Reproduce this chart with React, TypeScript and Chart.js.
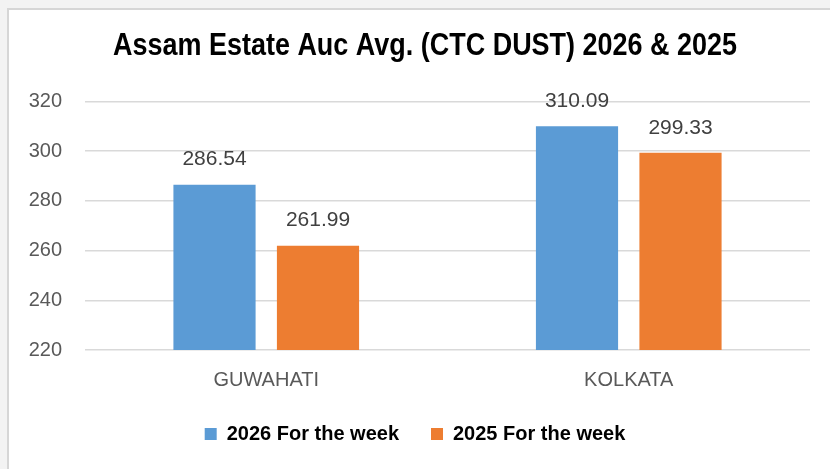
import React, { useEffect, useRef } from "react";
import { Chart, registerables } from "chart.js";

Chart.register(...registerables);

const categories = ["GUWAHATI", "KOLKATA"];
const series2026 = [286.54, 310.09];
const series2025 = [261.99, 299.33];
const seriesNames = ["2026 For the week", "2025 For the week"];
const yTicks = [220, 240, 260, 280, 300, 320];
const titleText = "Assam Estate Auc Avg. (CTC DUST) 2026 & 2025";

const frame = {
  id: "frame",
  beforeDraw(chart: any) {
    const { ctx, width, height } = chart;
    ctx.save();
    ctx.fillStyle = "#ffffff";
    ctx.fillRect(0, 0, width, height);
    ctx.fillStyle = "#f3f3f3";
    ctx.fillRect(0, 0, width, 8);
    ctx.fillRect(0, 0, 7, height);
    ctx.strokeStyle = "#d6d6d6";
    ctx.lineWidth = 2;
    ctx.beginPath();
    ctx.moveTo(8, height);
    ctx.lineTo(8, 9);
    ctx.lineTo(width, 9);
    ctx.stroke();
    ctx.restore();
  },
};

const narrowTitle = {
  id: "narrowTitle",
  afterDraw(chart: any) {
    const { ctx } = chart;
    ctx.save();
    ctx.font = "bold 32px 'Liberation Sans', sans-serif";
    ctx.fillStyle = "#000000";
    ctx.textAlign = "center";
    ctx.textBaseline = "alphabetic";
    const w = ctx.measureText(titleText).width;
    const sx = 624 / w;
    ctx.translate(425, 55);
    ctx.scale(sx, 1);
    ctx.fillText(titleText, 0, 0);
    ctx.restore();
  },
};

const valueLabels = {
  id: "valueLabels",
  afterDatasetsDraw(chart: any) {
    const { ctx } = chart;
    ctx.save();
    ctx.font = "21px 'Liberation Sans', sans-serif";
    ctx.fillStyle = "#404040";
    ctx.textAlign = "center";
    ctx.textBaseline = "middle";
    chart.data.datasets.forEach((ds: any, i: number) => {
      const meta = chart.getDatasetMeta(i);
      meta.data.forEach((el: any, j: number) => {
        ctx.fillText(Number(ds.data[j]).toFixed(2), el.x, el.y - 25);
      });
    });
    ctx.restore();
  },
};

export default function App() {
  const ref = useRef<HTMLCanvasElement>(null);
  useEffect(() => {
    document.body.style.margin = "0";
    const chart = new Chart(ref.current!, {
      type: "bar",
      data: {
        labels: categories,
        datasets: [
          {
            label: seriesNames[0],
            data: series2026,
            backgroundColor: "#5B9BD5",
            categoryPercentage: 0.571,
            barPercentage: 0.794,
          },
          {
            label: seriesNames[1],
            data: series2025,
            backgroundColor: "#ED7D31",
            categoryPercentage: 0.571,
            barPercentage: 0.794,
          },
        ],
      },
      options: {
        responsive: false,
        animation: false,
        layout: { padding: { left: 20, right: 20, top: 101.5, bottom: 15 } },
        plugins: {
          title: { display: false },
          legend: {
            position: "bottom",
            labels: {
              color: "#000000",
              boxWidth: 12,
              boxHeight: 12,
              padding: 32,
              font: { family: "'Liberation Sans', sans-serif", size: 20, weight: "bold" },
            },
          },
          tooltip: { enabled: false },
        },
        scales: {
          x: {
            grid: { display: false, drawTicks: false },
            border: { display: false },
            ticks: {
              color: "#595959",
              padding: 18,
              font: { family: "'Liberation Sans', sans-serif", size: 20 },
            },
            afterFit: (s: any) => {
              s.height = 42;
            },
          },
          y: {
            min: 220,
            max: 320,
            afterBuildTicks: (s: any) => {
              s.ticks = yTicks.map((v) => ({ value: v }));
            },
            grid: { color: "#d9d9d9", lineWidth: 1.5, drawTicks: false },
            border: { display: false },
            ticks: {
              color: "#595959",
              padding: 23,
              font: { family: "'Liberation Sans', sans-serif", size: 20 },
            },
            afterFit: (s: any) => {
              s.width = 65;
            },
          },
        },
      },
      plugins: [frame, valueLabels, narrowTitle],
    });
    return () => chart.destroy();
  }, []);
  return (
    <div style={{ width: 830, height: 469 }}>
      <canvas ref={ref} width={830} height={469} />
    </div>
  );
}
